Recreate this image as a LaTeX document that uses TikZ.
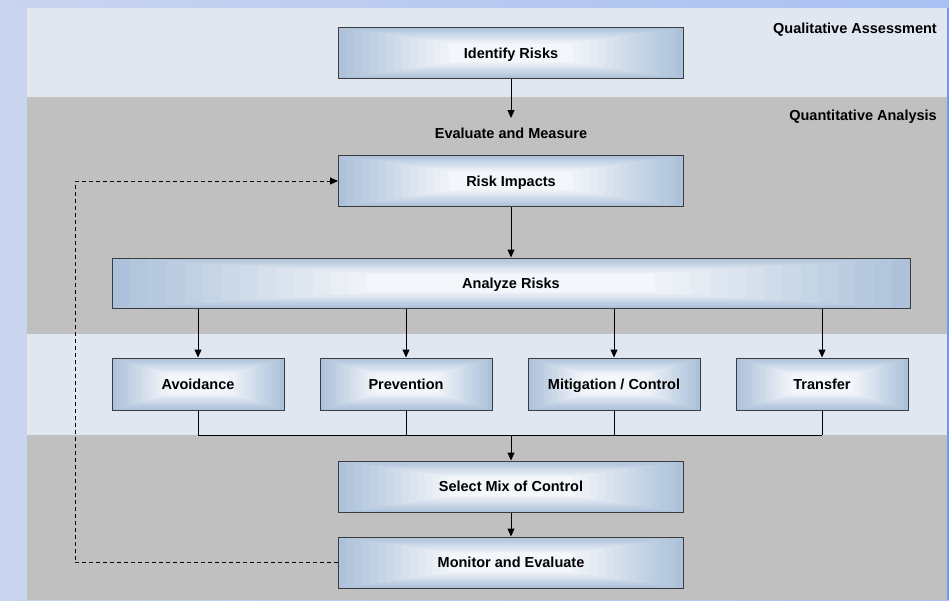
\documentclass[tikz,border=0pt]{standalone}
\usepackage{fontspec}
\setmainfont{Liberation Sans}
\usetikzlibrary{arrows.meta,calc}
\definecolor{bgblue}{HTML}{C9D4EF}
\definecolor{bgblueR}{HTML}{A9C0F2}
\definecolor{bandlight}{HTML}{E0E7F0}
\definecolor{bandgray}{HTML}{C0C0C0}
\definecolor{boxedge}{HTML}{ADC2DA}
\definecolor{boxmid}{HTML}{F3F6FA}
\definecolor{frame}{HTML}{3C3C3C}
\definecolor{edgeblue}{HTML}{6E9AF0}
\tikzset{
  txt/.style={font=\bfseries\fontsize{14.5}{17}\selectfont, text=black, inner sep=0pt,
    text height=10.4pt, text depth=0pt},
  gbox/.style={rectangle, draw=frame, line width=1pt, inner sep=0pt,
    minimum height=51pt, txt,
    path picture={
      \foreach \i in {0,...,14}{
        \pgfmathsetmacro{\pc}{100-\i*100/14}
        \pgfmathsetmacro{\fr}{\i*0.64/14}
        \fill[boxedge!\pc!boxmid]
          ($(path picture bounding box.south west)!\fr!(path picture bounding box.center)$)
          rectangle
          ($(path picture bounding box.north east)!\fr!(path picture bounding box.center)$);
      }}},
  conn/.style={draw=black, line width=1pt},
  arr/.style={conn, -{Triangle[length=8pt,width=7pt]}},
  dashconn/.style={arr, dash pattern=on 4pt off 3pt}
}
\begin{document}
\begin{tikzpicture}[x=1pt,y=-1pt]
\useasboundingbox (0,0) rectangle (949,600);
% background
\shade[left color=bgblue, right color=bgblueR] (0,0) rectangle (949,600);
\fill[bgblue] (0,8) rectangle (27,600);
\fill[edgeblue] (947,8) rectangle (949,600);
% bands
\fill[bandlight] (27,8) rectangle (947,97);
\fill[bandgray] (27,97) rectangle (947,334);
\fill[bandlight] (27,334) rectangle (947,435);
\fill[bandgray] (27,435) rectangle (947,600);

% band labels
\node[txt, anchor=east] (qual) at (937,28) {Qualitative Assessment};
\node[txt, anchor=east] (quant) at (937,115) {Quantitative Analysis};

% boxes
\node[gbox, minimum width=345pt] (identify) at (511,53) {Identify Risks};
\node[txt] (evalmeas) at (511,133) {Evaluate and Measure};
\node[gbox, minimum width=345pt] (riskimp) at (511,181) {Risk Impacts};
\node[gbox, minimum width=798pt, minimum height=50pt] (analyze) at (511,283) {Analyze Risks};
\node[gbox, minimum width=172pt, minimum height=52pt] (avoid) at (198,384) {Avoidance};
\node[gbox, minimum width=172pt, minimum height=52pt] (prevent) at (406,384) {Prevention};
\node[gbox, minimum width=172pt, minimum height=52pt] (mitig) at (614,384) {Mitigation / Control};
\node[gbox, minimum width=172pt, minimum height=52pt] (transfer) at (822,384) {Transfer};
\node[gbox, minimum width=345pt] (select) at (511,486.5) {Select Mix of Control};
\node[gbox, minimum width=345pt] (monitor) at (511,562.5) {Monitor and Evaluate};

% helper coordinates
\coordinate (evalpt) at (511,118);
\coordinate (join) at (511,435);
\coordinate (loopx) at (75,300);

% connectors
\draw[arr] (identify.south) -- (evalpt);
\draw[arr] (riskimp.south) -- (analyze.north);
\foreach \b in {avoid,prevent,mitig,transfer}{
  \draw[arr] (\b.north |- analyze.south) -- (\b.north);
  \draw[conn] (\b.south) -- (\b.south |- join);
}
\draw[conn] (avoid.south |- join) -- (transfer.south |- join);
\draw[arr] (join) -- (select.north);
\draw[arr] (select.south) -- (monitor.north);
\draw[dashconn] (monitor.west) -- (monitor.west -| loopx) |- (riskimp.west);
\end{tikzpicture}
\end{document}
